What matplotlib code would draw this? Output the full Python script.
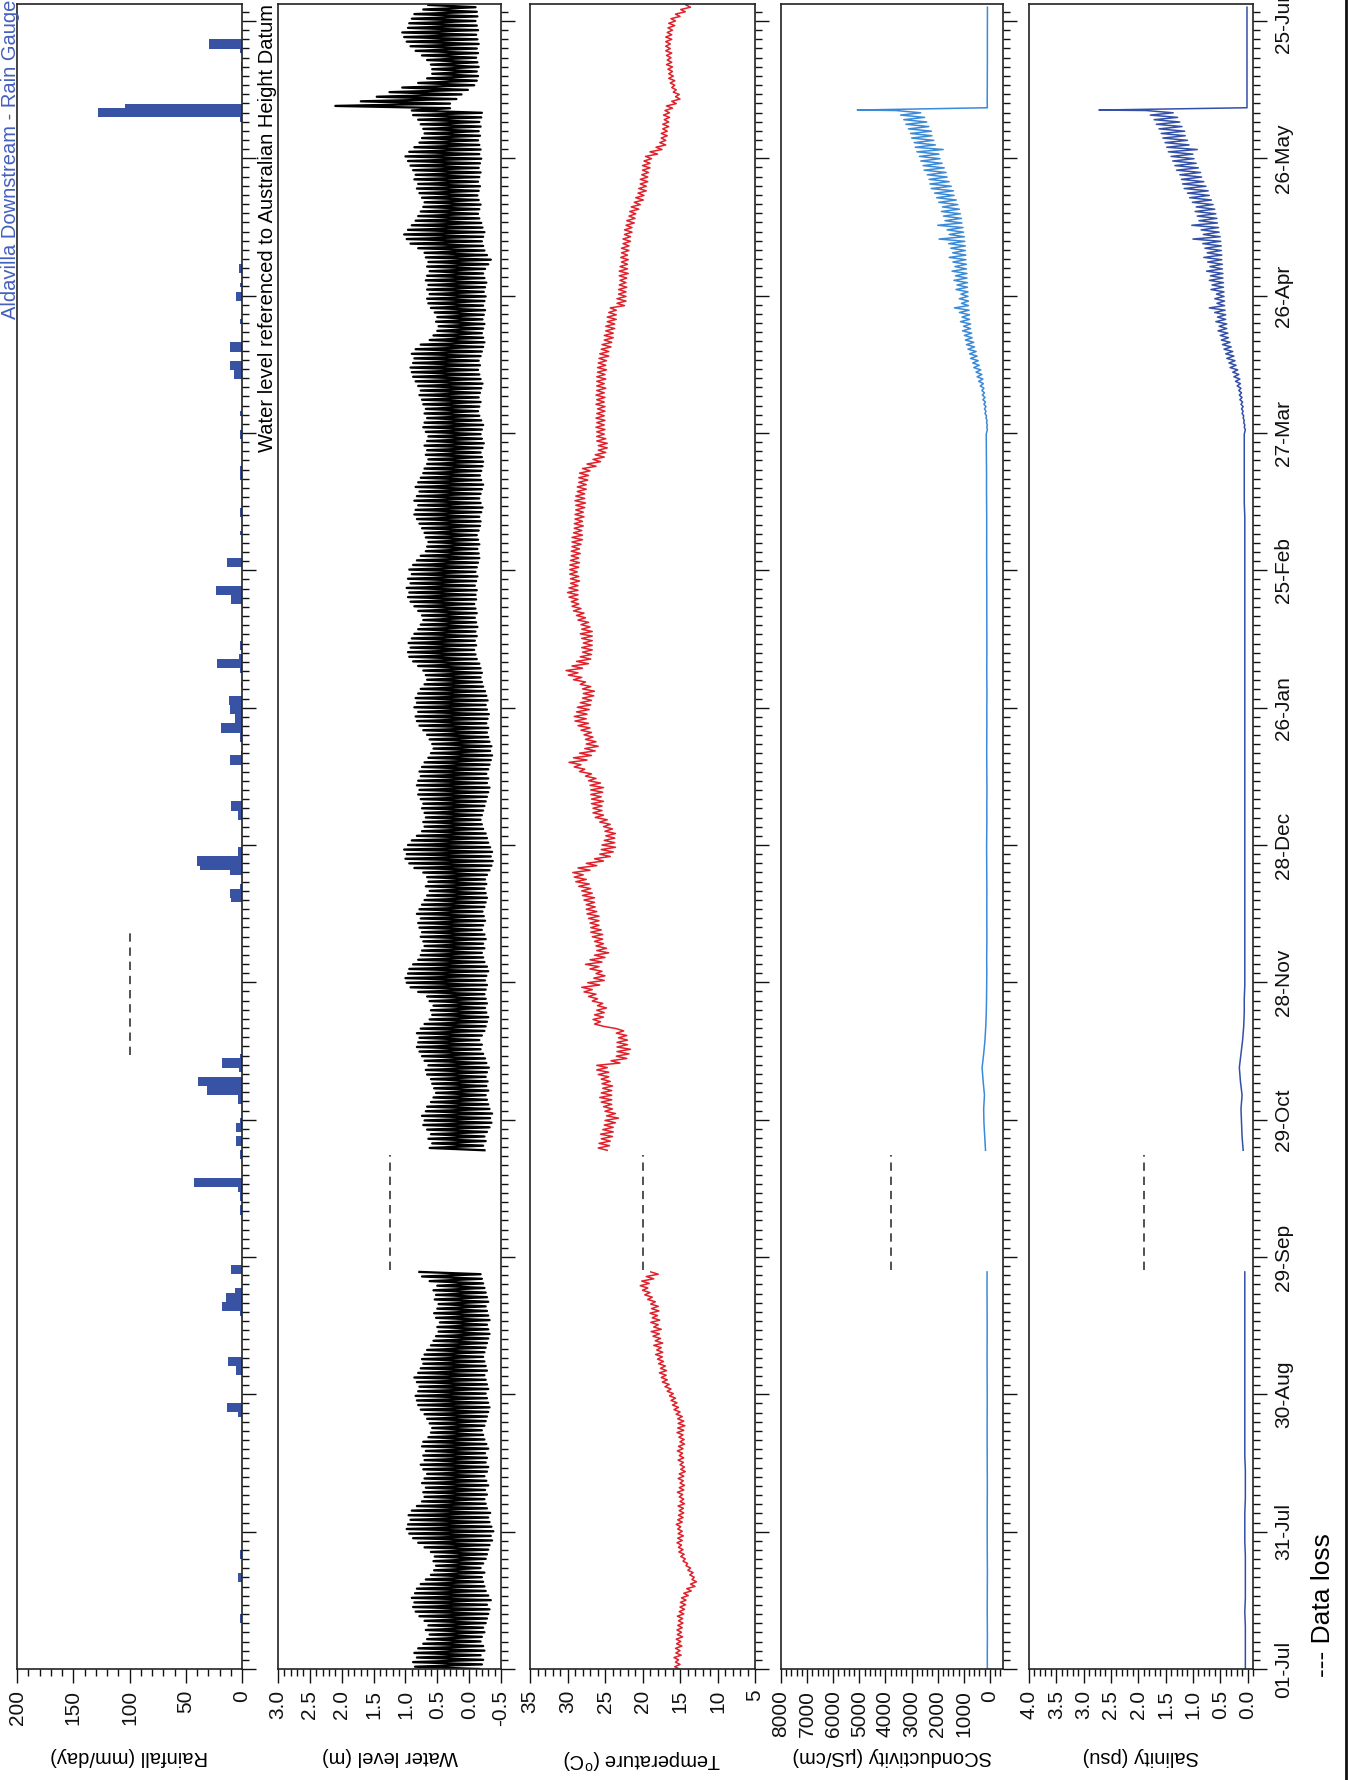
import numpy as np
import matplotlib.pyplot as plt
from matplotlib.ticker import MultipleLocator, FixedLocator, AutoMinorLocator, FormatStrFormatter
from matplotlib.lines import Line2D

plt.rcParams['font.family'] = ['Liberation Sans', 'DejaVu Sans']
plt.rcParams['mathtext.fontset'] = 'custom'
plt.rcParams['mathtext.rm'] = 'Liberation Sans'
plt.rcParams['axes.unicode_minus'] = False

# time axis is days since 01-Jul
date_labels = ['01-Jul', '31-Jul', '30-Aug', '29-Sep', '29-Oct', '28-Nov', '28-Dec',
               '26-Jan', '25-Feb', '27-Mar', '26-Apr', '26-May', '25-Jun']
date_ticks = np.linspace(0, 359, len(date_labels))
day_max = 362.7

# data loss periods (days)
gap_logger = [87, 112]
gap_rain = [133.7, 161.3]

# ---- rainfall (mm/day)
rain_day = [10, 11, 19, 20, 24, 25, 55, 56, 57, 64,
            65, 66, 67, 77, 78, 79, 80, 81, 82, 86,
            87, 99, 100, 102, 103, 104, 105, 106, 111, 112,
            114, 115, 117, 118, 119, 123, 124, 125, 126, 127,
            128, 130, 131, 132, 133, 167, 168, 169, 170, 173,
            174, 175, 176, 177, 178, 185, 186, 187, 188, 197,
            198, 199, 202, 203, 204, 205, 206, 207, 208, 209,
            210, 211, 214, 217, 218, 219, 220, 222, 223, 232,
            233, 234, 235, 240, 241, 247, 251, 252, 259, 260,
            261, 268, 269, 273, 281, 282, 283, 284, 287, 288,
            293, 298, 299, 301, 304, 305, 337, 338, 339, 340,
            348, 349, 352, 353, 354]
rain_mm = [1.5, 1.5, 3.5, 3.5, 2, 2, 3.5, 13, 13, 5,
           5, 12.5, 12.5, 2, 18, 18, 14, 14, 6, 10,
           10, 1.5, 1.5, 2, 2, 4, 43, 43, 1.5, 1.5,
           5.4, 5.4, 5.4, 5.4, 2, 3.5, 3.5, 31, 31, 39,
           39, 3, 18, 18, 2, 9.5, 10.4, 10.4, 2, 11,
           37, 40, 40, 4, 4, 4, 4, 10, 10, 11,
           11, 1, 1.5, 1.5, 19, 19, 6, 6, 10.5, 10.5,
           12, 12, 1, 1.5, 22, 22, 3, 2, 2, 10,
           10, 23, 23, 13, 13, 1.5, 1.5, 1.5, 2, 2,
           2, 1.5, 1.5, 2, 7, 7, 10.7, 10.7, 10.7, 10.7,
           1.5, 5.4, 5.4, 2, 3, 3, 2, 128, 128, 104,
           1, 1, 1.5, 29.5, 29.5]

# ---- water level (m AHD), daily low and high water
start_a = 0     # first logger record, before the data loss
start_b = 113   # first logger record after the data loss
wl_hi_a = [0.85, 0.88, 0.82, 0.86, 0.80, 0.72, 0.66, 0.62, 0.68, 0.64,
           0.70, 0.78, 0.84, 0.88, 0.86, 0.90, 0.85, 0.82, 0.76, 0.68,
           0.60, 0.55, 0.52, 0.56, 0.54, 0.60, 0.70, 0.80, 0.88, 0.94,
           0.98, 0.96, 0.92, 0.95, 0.90, 0.82, 0.74, 0.70, 0.72, 0.68,
           0.74, 0.70, 0.66, 0.72, 0.76, 0.70, 0.72, 0.68, 0.74, 0.72,
           0.64, 0.60, 0.58, 0.62, 0.66, 0.70, 0.76, 0.80, 0.82, 0.84,
           0.80, 0.78, 0.82, 0.86, 0.80, 0.76, 0.72, 0.74, 0.70, 0.66,
           0.60, 0.56, 0.52, 0.48, 0.50, 0.46, 0.52, 0.55, 0.50, 0.48,
           0.54, 0.52, 0.56, 0.50, 0.62, 0.74, 0.78]
wl_lo_a = [-0.16, -0.20, -0.22, -0.18, -0.24, -0.22, -0.18, -0.20, -0.24, -0.22,
           -0.26, -0.28, -0.30, -0.32, -0.28, -0.34, -0.30, -0.26, -0.24, -0.22,
           -0.20, -0.24, -0.18, -0.22, -0.26, -0.28, -0.30, -0.32, -0.36, -0.34,
           -0.38, -0.35, -0.32, -0.30, -0.33, -0.28, -0.26, -0.24, -0.28, -0.25,
           -0.30, -0.27, -0.24, -0.28, -0.30, -0.26, -0.28, -0.25, -0.30, -0.27,
           -0.24, -0.22, -0.20, -0.24, -0.26, -0.28, -0.30, -0.32, -0.30, -0.28,
           -0.26, -0.30, -0.28, -0.26, -0.24, -0.28, -0.26, -0.24, -0.22, -0.24,
           -0.26, -0.28, -0.30, -0.32, -0.30, -0.28, -0.32, -0.30, -0.28, -0.26,
           -0.30, -0.28, -0.26, -0.24, -0.22, -0.20, -0.18]
wl_hi_b = [0.62, 0.58, 0.64, 0.60, 0.66, 0.72, 0.70, 0.74, 0.68, 0.66,
           0.60, 0.56, 0.52, 0.55, 0.58, 0.60, 0.66, 0.68, 0.64, 0.70,
           0.74, 0.78, 0.82, 0.80, 0.78, 0.82, 0.76, 0.70, 0.62, 0.58,
           0.60, 0.56, 0.62, 0.66, 0.80, 0.92, 0.98, 1.00, 0.96, 0.94,
           0.88, 0.80, 0.76, 0.74, 0.70, 0.72, 0.76, 0.74, 0.78, 0.80,
           0.76, 0.82, 0.78, 0.74, 0.70, 0.66, 0.62, 0.68, 0.64, 0.66,
           0.72, 0.86, 0.94, 1.00, 0.98, 1.02, 0.96, 0.90, 0.82, 0.74,
           0.70, 0.72, 0.68, 0.70, 0.74, 0.72, 0.76, 0.80, 0.78, 0.82,
           0.80, 0.76, 0.78, 0.74, 0.70, 0.64, 0.60, 0.56, 0.58, 0.62,
           0.66, 0.72, 0.78, 0.82, 0.84, 0.80, 0.86, 0.82, 0.84, 0.80,
           0.76, 0.70, 0.66, 0.68, 0.72, 0.80, 0.88, 0.94, 0.96, 0.92,
           0.95, 0.90, 0.86, 0.80, 0.76, 0.72, 0.74, 0.80, 0.86, 0.92,
           0.96, 0.94, 0.98, 0.92, 0.96, 0.90, 0.94, 0.88, 0.82, 0.76,
           0.68, 0.66, 0.64, 0.68, 0.70, 0.74, 0.78, 0.82, 0.86, 0.84,
           0.80, 0.86, 0.82, 0.78, 0.84, 0.80, 0.76, 0.72, 0.70, 0.66,
           0.64, 0.68, 0.66, 0.70, 0.66, 0.64, 0.68, 0.72, 0.70, 0.66,
           0.70, 0.68, 0.72, 0.74, 0.78, 0.76, 0.80, 0.84, 0.88, 0.90,
           0.92, 0.88, 0.86, 0.90, 0.84, 0.76, 0.62, 0.56, 0.50, 0.48,
           0.52, 0.50, 0.54, 0.60, 0.64, 0.66, 0.62, 0.66, 0.64, 0.68,
           0.66, 0.62, 0.66, 0.64, 0.68, 0.70, 0.80, 0.92, 0.98, 1.02,
           0.96, 0.90, 0.84, 0.80, 0.76, 0.72, 0.70, 0.74, 0.78, 0.82,
           0.80, 0.86, 0.84, 0.88, 0.92, 0.96, 1.00, 0.94, 0.86, 0.78,
           0.74, 0.70, 0.72, 0.76, 0.80, 0.88, 0.90, 2.10, 1.70, 1.45,
           1.25, 1.05, 0.80, 0.66, 0.58, 0.58, 0.60, 0.66, 0.74, 0.84,
           0.92, 0.98, 1.02, 1.05, 0.96, 0.94, 0.90, 0.86, 0.72, 0.64]
wl_lo_b = [-0.24, -0.22, -0.26, -0.24, -0.28, -0.32, -0.35, -0.33, -0.36, -0.32,
           -0.30, -0.28, -0.26, -0.30, -0.27, -0.29, -0.26, -0.28, -0.31, -0.27,
           -0.25, -0.22, -0.18, -0.20, -0.16, -0.20, -0.24, -0.26, -0.28, -0.30,
           -0.27, -0.25, -0.28, -0.26, -0.24, -0.26, -0.28, -0.25, -0.27, -0.30,
           -0.28, -0.24, -0.22, -0.20, -0.24, -0.22, -0.26, -0.24, -0.20, -0.22,
           -0.25, -0.23, -0.21, -0.24, -0.26, -0.28, -0.26, -0.24, -0.27, -0.25,
           -0.28, -0.32, -0.35, -0.37, -0.34, -0.36, -0.33, -0.30, -0.28, -0.26,
           -0.22, -0.20, -0.18, -0.20, -0.22, -0.24, -0.26, -0.28, -0.30, -0.32,
           -0.28, -0.30, -0.27, -0.30, -0.32, -0.34, -0.36, -0.33, -0.35, -0.32,
           -0.30, -0.28, -0.30, -0.27, -0.29, -0.31, -0.28, -0.26, -0.29, -0.27,
           -0.25, -0.22, -0.20, -0.18, -0.20, -0.18, -0.16, -0.12, -0.10, -0.08,
           -0.11, -0.09, -0.12, -0.10, -0.13, -0.11, -0.09, -0.12, -0.10, -0.08,
           -0.11, -0.10, -0.12, -0.09, -0.11, -0.13, -0.10, -0.12, -0.14, -0.16,
           -0.15, -0.13, -0.16, -0.14, -0.12, -0.15, -0.17, -0.18, -0.16, -0.19,
           -0.21, -0.18, -0.16, -0.18, -0.20, -0.22, -0.19, -0.17, -0.19, -0.21,
           -0.22, -0.20, -0.18, -0.21, -0.23, -0.20, -0.18, -0.20, -0.22, -0.19,
           -0.16, -0.14, -0.16, -0.18, -0.15, -0.17, -0.19, -0.21, -0.18, -0.16,
           -0.14, -0.17, -0.15, -0.18, -0.20, -0.22, -0.24, -0.22, -0.20, -0.22,
           -0.24, -0.21, -0.23, -0.25, -0.22, -0.24, -0.26, -0.23, -0.25, -0.27,
           -0.24, -0.22, -0.25, -0.30, -0.34, -0.28, -0.24, -0.22, -0.20, -0.22,
           -0.24, -0.21, -0.19, -0.16, -0.14, -0.16, -0.18, -0.15, -0.13, -0.15,
           -0.17, -0.14, -0.16, -0.18, -0.15, -0.17, -0.19, -0.16, -0.18, -0.16,
           -0.14, -0.17, -0.15, -0.18, -0.16, -0.19, -0.20, 0.30, 0.30, 0.20,
           0.12, 0.02, -0.08, -0.12, -0.14, -0.12, -0.15, -0.13, -0.11, -0.14,
           -0.12, -0.15, -0.13, -0.11, -0.14, -0.12, -0.10, -0.13, -0.12, -0.10]

# ---- water temperature (deg C), daily mean and half of the daily swing
temp_a = [15.4, 15.3, 15.5, 15.2, 15.3, 15.1, 15.2, 15.0, 15.1, 15.0,
          14.9, 15.0, 14.8, 14.7, 14.6, 14.5, 14.2, 13.8, 13.3, 13.1,
          13.4, 13.6, 13.9, 14.3, 14.6, 14.8, 14.9, 15.1, 15.0, 14.9,
          15.0, 15.2, 15.0, 14.9, 14.8, 14.9, 14.7, 14.8, 15.0, 14.8,
          14.7, 14.9, 14.8, 14.6, 14.7, 14.9, 14.8, 15.0, 14.9, 14.7,
          14.8, 15.0, 14.9, 14.8, 14.9, 15.1, 15.4, 15.6, 15.8, 16.0,
          16.3, 16.6, 16.9, 17.1, 17.3, 17.2, 17.4, 17.6, 17.8, 17.7,
          18.0, 17.8, 18.1, 18.3, 18.0, 18.4, 18.2, 18.5, 18.3, 18.4,
          18.8, 19.2, 19.5, 19.8, 19.6, 19.0, 18.4]
temp_a_half = [0.3, 0.3, 0.3, 0.35, 0.3, 0.35, 0.3, 0.35, 0.3, 0.3,
               0.3, 0.35, 0.3, 0.3, 0.35, 0.3, 0.3, 0.3, 0.3, 0.3,
               0.3, 0.35, 0.3, 0.3, 0.3, 0.35, 0.3, 0.3, 0.3, 0.35,
               0.3, 0.3, 0.3, 0.3, 0.3, 0.35, 0.3, 0.3, 0.35, 0.3,
               0.3, 0.35, 0.3, 0.3, 0.3, 0.35, 0.3, 0.35, 0.3, 0.3,
               0.35, 0.4, 0.4, 0.45, 0.4, 0.4, 0.4, 0.4, 0.4, 0.4,
               0.4, 0.4, 0.45, 0.4, 0.45, 0.4, 0.45, 0.4, 0.45, 0.4,
               0.5, 0.5, 0.5, 0.55, 0.5, 0.5, 0.5, 0.5, 0.5, 0.5,
               0.5, 0.5, 0.5, 0.5, 0.5, 0.5, 0.5]
temp_b = [25.3, 25.1, 24.9, 24.8, 24.6, 24.5, 24.3, 24.0, 24.3, 24.6,
          24.8, 24.9, 24.8, 24.7, 24.7, 24.9, 25.2, 25.3, 25.4, 23.6,
          22.8, 22.6, 22.5, 22.7, 22.6, 22.8, 23.0, 25.8, 26.1, 25.8,
          25.6, 25.4, 26.0, 26.6, 27.0, 27.4, 26.5, 25.8, 25.6, 26.2,
          26.7, 26.2, 25.7, 25.3, 25.5, 25.8, 26.0, 26.1, 26.2, 26.4,
          26.5, 26.6, 26.8, 26.9, 27.1, 27.2, 27.4, 27.7, 28.0, 28.3,
          28.6, 27.8, 26.8, 25.8, 25.0, 24.7, 24.5, 24.4, 24.3, 24.3,
          24.6, 25.0, 25.5, 25.9, 26.0, 26.1, 26.0, 26.2, 26.1, 26.1,
          26.4, 26.9, 27.6, 28.4, 29.0, 28.3, 27.6, 27.0, 26.7, 26.9,
          27.2, 27.5, 27.8, 28.1, 28.3, 28.1, 27.9, 27.6, 27.4, 27.2,
          27.2, 27.6, 28.4, 29.0, 29.4, 28.7, 28.0, 27.6, 27.4, 27.4,
          27.3, 27.4, 27.5, 27.4, 27.6, 27.9, 28.2, 28.5, 28.8, 29.0,
          29.2, 29.3, 29.2, 29.1, 29.0, 29.1, 29.2, 29.1, 29.0, 29.0,
          28.9, 28.9, 28.8, 28.7, 28.6, 28.6, 28.5, 28.5, 28.4, 28.4,
          28.3, 28.3, 28.3, 28.2, 28.1, 28.0, 27.9, 27.8, 27.5, 26.8,
          26.1, 25.7, 25.4, 25.3, 25.4, 25.5, 25.6, 25.6, 25.6, 25.6,
          25.6, 25.5, 25.6, 25.6, 25.6, 25.6, 25.5, 25.6, 25.5, 25.5,
          25.4, 25.4, 25.3, 25.1, 25.0, 24.8, 24.6, 24.5, 24.4, 24.3,
          24.2, 24.1, 24.0, 23.9, 22.9, 22.8, 22.7, 22.7, 22.6, 22.6,
          22.6, 22.5, 22.5, 22.4, 22.4, 22.4, 22.3, 22.2, 22.1, 22.0,
          21.9, 21.8, 21.6, 21.4, 21.3, 21.0, 20.7, 20.4, 20.2, 20.0,
          19.9, 19.8, 19.7, 19.6, 19.5, 19.4, 19.2, 18.5, 17.8, 17.3,
          17.2, 17.1, 17.0, 16.9, 16.8, 16.8, 16.7, 16.4, 15.8, 15.3,
          15.5, 15.8, 16.0, 16.1, 16.2, 16.3, 16.4, 16.4, 16.5, 16.5,
          16.6, 16.6, 16.5, 16.4, 16.3, 16.1, 15.9, 15.3, 14.6, 13.9]
temp_b_half = [0.6, 0.7, 0.6, 0.8, 0.7, 0.6, 0.7, 0.8, 0.7, 0.6,
               0.7, 0.8, 0.7, 0.6, 0.7, 0.6, 0.7, 0.8, 0.7, 0.6,
               0.7, 0.8, 0.9, 0.7, 0.6, 0.7, 0.5, 0.6, 0.5, 0.6,
               0.5, 0.6, 0.7, 0.6, 0.8, 0.7, 0.8, 0.7, 0.6, 0.8,
               0.9, 0.8, 0.7, 0.8, 0.7, 0.6, 0.7, 0.8, 0.7, 0.6,
               0.7, 0.8, 0.7, 0.6, 0.7, 0.8, 0.7, 0.8, 0.9, 0.8,
               0.7, 0.8, 0.7, 0.6, 0.7, 0.8, 0.9, 0.7, 0.6, 0.7,
               0.6, 0.7, 0.8, 0.7, 0.6, 0.7, 0.8, 0.7, 0.8, 0.9,
               0.8, 0.7, 0.8, 0.7, 0.8, 0.9, 0.8, 0.7, 0.8, 0.7,
               0.6, 0.7, 0.8, 0.9, 0.8, 0.7, 0.8, 0.7, 0.6, 0.7,
               0.8, 0.7, 0.8, 0.9, 0.8, 0.7, 0.8, 0.7, 0.6, 0.7,
               0.6, 0.7, 0.8, 0.7, 0.6, 0.7, 0.6, 0.7, 0.6, 0.5,
               0.6, 0.7, 0.6, 0.5, 0.6, 0.6, 0.5, 0.6, 0.6, 0.5,
               0.6, 0.5, 0.6, 0.7, 0.6, 0.5, 0.6, 0.5, 0.6, 0.5,
               0.6, 0.7, 0.6, 0.5, 0.6, 0.5, 0.6, 0.6, 0.5, 0.6,
               0.5, 0.6, 0.5, 0.6, 0.7, 0.6, 0.5, 0.6, 0.5, 0.6,
               0.5, 0.5, 0.6, 0.5, 0.6, 0.5, 0.6, 0.5, 0.6, 0.5,
               0.6, 0.5, 0.5, 0.6, 0.5, 0.6, 0.5, 0.6, 0.5, 0.6,
               0.5, 0.6, 0.5, 0.4, 0.5, 0.6, 0.5, 0.5, 0.5, 0.4,
               0.5, 0.6, 0.5, 0.4, 0.5, 0.4, 0.5, 0.4, 0.5, 0.4,
               0.5, 0.4, 0.5, 0.4, 0.4, 0.5, 0.4, 0.5, 0.4, 0.5,
               0.4, 0.5, 0.4, 0.4, 0.5, 0.4, 0.4, 0.5, 0.4, 0.4,
               0.3, 0.4, 0.3, 0.4, 0.3, 0.4, 0.3, 0.4, 0.3, 0.3,
               0.4, 0.3, 0.3, 0.4, 0.3, 0.3, 0.4, 0.3, 0.3, 0.4,
               0.3, 0.3, 0.4, 0.3, 0.3, 0.4, 0.3, 0.3, 0.3, 0.3]

# ---- conductivity (uS/cm) and salinity (psu)
# quiet stretches, read every 3 days
cond_a = [100, 102, 98, 100, 104, 102, 100, 98, 102, 104,
          106, 104, 102, 100, 103, 105, 107, 108, 106, 104,
          106, 108, 110, 108, 106, 108, 110, 112, 110]
sal_a = [0.04, 0.04, 0.04, 0.04, 0.05, 0.04, 0.04, 0.04, 0.04, 0.05,
         0.05, 0.05, 0.04, 0.04, 0.04, 0.05, 0.05, 0.05, 0.05, 0.05,
         0.05, 0.05, 0.05, 0.05, 0.05, 0.05, 0.05, 0.05, 0.05]
cond_b = [170, 200, 230, 240, 210, 260, 300, 240, 190, 160,
          140, 130, 125, 120, 125, 118, 120, 125, 120, 118,
          122, 125, 128, 122, 118, 120, 115, 118, 120, 124,
          120, 118, 120, 115, 118, 122, 118, 120, 124, 120,
          118, 120, 124, 126, 124, 120, 124, 128, 132, 130,
          134, 138, 142]
sal_b = [0.08, 0.10, 0.11, 0.12, 0.10, 0.13, 0.15, 0.12, 0.09, 0.07,
         0.06, 0.06, 0.05, 0.05, 0.05, 0.05, 0.05, 0.05, 0.05, 0.05,
         0.05, 0.05, 0.05, 0.05, 0.05, 0.05, 0.05, 0.05, 0.05, 0.05,
         0.05, 0.05, 0.05, 0.05, 0.05, 0.05, 0.05, 0.05, 0.05, 0.05,
         0.05, 0.05, 0.05, 0.05, 0.05, 0.05, 0.05, 0.06, 0.06, 0.06,
         0.06, 0.06, 0.06]
# saline intrusion 270-339, daily low / high
rise_start = 270
cond_lo = [100, 100, 110, 130, 150, 150, 170, 190, 210, 230,
           250, 270, 310, 350, 410, 450, 490, 530, 590, 620,
           680, 700, 740, 740, 780, 780, 800, 820, 820, 840,
           840, 860, 860, 880, 880, 900, 900, 920, 920, 940,
           940, 960, 980, 1010, 1030, 1070, 1090, 1130, 1170, 1230,
           1290, 1370, 1400, 1480, 1560, 1640, 1680, 1750, 1830, 1910,
           1950, 1790, 2090, 2150, 2220, 2240, 2340, 2420, 2500, 2650]
cond_hi = [120, 130, 150, 190, 210, 230, 270, 290, 310, 370,
           430, 490, 530, 620, 660, 740, 780, 840, 900, 940,
           980, 1050, 1010, 1130, 1070, 1170, 1360, 1090, 1170, 1110,
           1300, 1260, 1380, 1320, 1450, 1340, 1420, 1560, 1430, 1500,
           1580, 1950, 1560, 1640, 2000, 1720, 1780, 1860, 1820, 1960,
           2040, 2120, 2250, 2300, 2330, 2400, 2520, 2560, 2650, 2700,
           2800, 2860, 2900, 3000, 3040, 3120, 3220, 3300, 3420, 3600]
sal_lo = [0.04, 0.05, 0.06, 0.07, 0.08, 0.08, 0.09, 0.10, 0.11, 0.12,
          0.13, 0.14, 0.16, 0.18, 0.21, 0.23, 0.25, 0.27, 0.30, 0.32,
          0.35, 0.36, 0.38, 0.38, 0.40, 0.40, 0.41, 0.42, 0.42, 0.43,
          0.43, 0.44, 0.44, 0.45, 0.45, 0.46, 0.46, 0.47, 0.47, 0.48,
          0.48, 0.49, 0.50, 0.52, 0.53, 0.55, 0.56, 0.58, 0.60, 0.63,
          0.66, 0.70, 0.72, 0.76, 0.80, 0.84, 0.86, 0.90, 0.94, 0.98,
          1.00, 0.92, 1.07, 1.10, 1.14, 1.15, 1.20, 1.24, 1.28, 1.36]
sal_hi = [0.06, 0.07, 0.08, 0.10, 0.11, 0.12, 0.14, 0.15, 0.16, 0.19,
          0.22, 0.25, 0.27, 0.32, 0.34, 0.38, 0.40, 0.43, 0.46, 0.48,
          0.50, 0.54, 0.52, 0.58, 0.55, 0.60, 0.70, 0.56, 0.60, 0.57,
          0.67, 0.65, 0.70, 0.68, 0.75, 0.69, 0.73, 0.80, 0.74, 0.78,
          0.82, 1.00, 0.81, 0.85, 1.02, 0.89, 0.92, 0.96, 0.94, 1.01,
          1.06, 1.10, 1.16, 1.19, 1.21, 1.24, 1.30, 1.33, 1.37, 1.40,
          1.45, 1.48, 1.51, 1.55, 1.58, 1.62, 1.67, 1.71, 1.78, 1.86]
# flood flush: peak then drop
flush_day = [339.6, 340.1]
cond_flush = [5080, 100]
sal_flush = [2.72, 0.01]
cond_post = [105, 102, 100, 98, 100, 98, 97, 96]
sal_post = [0.01, 0.01, 0.01, 0.01, 0.01, 0.01, 0.01, 0.01]

rain_col = '#3953a4'
title_col = '#4460bd'
cond_col = '#3a8ad8'
sal_col = '#3350a8'
temp_col = '#e0202a'
dash = (0, (5, 3.5))


def zigzag(start, lo, hi):
    n = min(len(lo), len(hi))
    d = start + np.arange(n)
    t = np.column_stack([d, d + 0.5]).ravel()
    v = np.column_stack([np.asarray(lo)[:n], np.asarray(hi)[:n]]).ravel()
    return t, v


def logger_b(flat, lo, hi, flush, post):
    t_flat = np.arange(start_b, rise_start, 3)[:len(flat)]
    t_rise, v_rise = zigzag(rise_start, lo, hi)
    t_post = np.arange(341, 363, 3)[:len(post)]
    t = np.concatenate([t_flat, t_rise, flush_day, t_post])
    v = np.concatenate([flat, v_rise, flush, post])
    return t, v


def setup(ax, xlim, major, minor, fmt, label):
    ax.set_xlim(*xlim)
    ax.set_ylim(0, day_max)
    ax.xaxis.set_major_locator(MultipleLocator(major))
    ax.xaxis.set_minor_locator(MultipleLocator(minor))
    ax.xaxis.set_major_formatter(FormatStrFormatter(fmt))
    ax.yaxis.set_major_locator(FixedLocator(date_ticks))
    ax.yaxis.set_minor_locator(AutoMinorLocator(15))
    ax.tick_params(axis='x', which='both', direction='out', bottom=True, top=False,
                   labelrotation=90, labelsize=15, pad=5, width=1, colors='#111111')
    ax.tick_params(axis='x', which='major', length=10)
    ax.tick_params(axis='x', which='minor', length=5)
    ax.tick_params(axis='y', which='both', direction='out', left=False, right=True,
                   labelleft=False, labelright=False, width=1, colors='#111111')
    ax.tick_params(axis='y', which='major', length=10)
    ax.tick_params(axis='y', which='minor', length=5)
    ax.set_xlabel(label, rotation=180, fontsize=14.5)
    ax.xaxis.set_label_coords(0.5, -0.047)
    for s in ax.spines.values():
        s.set_linewidth(1.2)
        s.set_color('#222222')


fig = plt.figure(figsize=(13.49, 17.80), dpi=100)
W, H = 1349.0, 1780.0
lefts = [17, 278, 530, 781, 1029]
widths = [225, 223, 225, 222, 224]
axes = [fig.add_axes([l / W, 1 - 1669 / H, w / W, 1665 / H]) for l, w in zip(lefts, widths)]
ax_rain, ax_wl, ax_temp, ax_cond, ax_sal = axes

# rainfall
ax_rain.barh(rain_day, rain_mm, height=1, align='edge', color=rain_col, linewidth=0)
ax_rain.plot([100, 100], gap_rain, color='#333333', lw=1.2, ls=dash)
setup(ax_rain, (200, 0), 50, 10, '%d', 'Rainfall (mm/day)')

# water level
for start, lo, hi in [(start_a, wl_lo_a, wl_hi_a), (start_b, wl_lo_b, wl_hi_b)]:
    t, v = zigzag(start, lo, hi)
    ax_wl.plot(v, t, color='black', lw=1.65)
ax_wl.plot([1.25, 1.25], gap_logger, color='#333333', lw=1.2, ls=dash)
setup(ax_wl, (3.0, -0.5), 0.5, 0.1, '%.1f', 'Water level (m)')
ax_wl.text(-0.003, 1.0, 'Water level referenced to Australian Height Datum',
           transform=ax_wl.transAxes, rotation=90, ha='right', va='top', fontsize=14.5)

# temperature
for start, mean, half in [(start_a, temp_a, temp_a_half), (start_b, temp_b, temp_b_half)]:
    mean, half = np.asarray(mean), np.asarray(half)
    t, v = zigzag(start, mean - half, mean + half)
    ax_temp.plot(v, t, color=temp_col, lw=1.1)
ax_temp.plot([20, 20], gap_logger, color='#333333', lw=1.2, ls=dash)
setup(ax_temp, (35, 5), 5, 1, '%d', 'Temperature ($^{\\rm o}$C)')

# conductivity
t_a = np.linspace(start_a, 86.5, len(cond_a))
ax_cond.plot(cond_a, t_a, color=cond_col, lw=1.1)
t, v = logger_b(cond_b, cond_lo, cond_hi, cond_flush, cond_post)
ax_cond.plot(v, t, color=cond_col, lw=1.1)
ax_cond.plot([3800, 3800], gap_logger, color='#333333', lw=1.2, ls=dash)
setup(ax_cond, (8000, -500), 1000, 200, '%d', 'SConductivity (\u00b5S/cm)')

# salinity
t_a = np.linspace(start_a, 86.5, len(sal_a))
ax_sal.plot(sal_a, t_a, color=sal_col, lw=1.1)
t, v = logger_b(sal_b, sal_lo, sal_hi, sal_flush, sal_post)
ax_sal.plot(v, t, color=sal_col, lw=1.1)
ax_sal.plot([1.9, 1.9], gap_logger, color='#333333', lw=1.2, ls=dash)
setup(ax_sal, (4.0, -0.1), 0.5, 0.1, '%.1f', 'Salinity (psu)')

# date labels only on the right-most panel
ax_sal.set_yticks(date_ticks, date_labels)
ax_sal.tick_params(axis='y', which='major', labelright=True, labelrotation=90,
                   labelsize=15, pad=5)
for lab in ax_sal.get_yticklabels():
    lab.set_verticalalignment('center')

fig.text(20 / W, 1.0, 'Aldavilla Downstream - Rain Gauge', rotation=90,
         ha='right', va='top', color=title_col, fontsize=14.5)
fig.text(1323 / W, 1 - 1677 / H, '--- Data loss', rotation=90,
         ha='center', va='bottom', fontsize=19)
fig.add_artist(Line2D([1346 / W, 1346 / W], [0, 1], color='#111111', lw=2.0,
                      transform=fig.transFigure))

fig.savefig('out.png', dpi=100)
